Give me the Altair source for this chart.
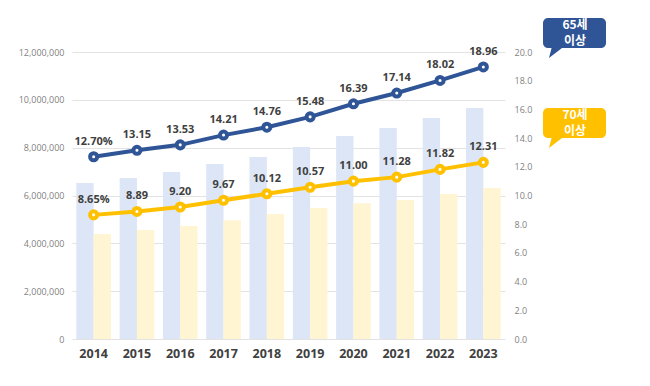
import altair as alt
import pandas as pd

years = ["2014", "2015", "2016", "2017", "2018", "2019", "2020", "2021", "2022", "2023"]
series = ["65세 이상", "70세 이상"]
pop65 = [6520000, 6730000, 6980000, 7320000, 7610000, 8030000, 8490000, 8820000, 9240000, 9660000]
pop70 = [4390000, 4560000, 4720000, 4970000, 5230000, 5480000, 5680000, 5810000, 6060000, 6310000]
rate65 = [12.70, 13.15, 13.53, 14.21, 14.76, 15.48, 16.39, 17.14, 18.02, 18.96]
rate70 = [8.65, 8.89, 9.20, 9.67, 10.12, 10.57, 11.00, 11.28, 11.82, 12.31]
label65 = ["12.70%", "13.15", "13.53", "14.21", "14.76", "15.48", "16.39", "17.14", "18.02", "18.96"]
label70 = ["8.65%", "8.89", "9.20", "9.67", "10.12", "10.57", "11.00", "11.28", "11.82", "12.31"]
left_ticks = [0, 2000000, 4000000, 6000000, 8000000, 10000000, 12000000]
right_ticks = [0, 2, 4, 6, 8, 10, 12, 14, 16, 18, 20]

bar_df = pd.DataFrame({
    "year": years * 2,
    "series": [series[0]] * 10 + [series[1]] * 10,
    "pop": pop65 + pop70,
})
line_df = pd.DataFrame({
    "year": years * 2,
    "series": [series[0]] * 10 + [series[1]] * 10,
    "rate": rate65 + rate70,
    "label": label65 + label70,
})

NUM_FONT = "Open Sans"
KR_FONT = "Noto Sans CJK KR"

xenc = alt.X("year:N", sort=years,
             scale=alt.Scale(paddingInner=0.2, paddingOuter=0.1),
             axis=alt.Axis(title=None, labelAngle=0, labelFont=NUM_FONT, labelFontSize=12.5,
                           labelFontWeight="bold", labelColor="#404040", labelPadding=8,
                           domain=False, ticks=False, grid=False))

bars = alt.Chart(bar_df).mark_bar().encode(
    x=xenc,
    xOffset=alt.XOffset("series:N", sort=series),
    y=alt.Y("pop:Q", scale=alt.Scale(domain=[0, 12000000], nice=False),
            axis=alt.Axis(title=None, values=left_ticks, format=",d", labelFont=NUM_FONT,
                          labelFontSize=9, labelColor="#7f7f7f", labelPadding=8,
                          domain=False, ticks=False, gridColor="#e3e3e3", gridWidth=1)),
    color=alt.Color("series:N", sort=series,
                    scale=alt.Scale(domain=series, range=["#dce6f6", "#fff5d2"]), legend=None),
)

line_color = alt.Color("series:N", sort=series,
                       scale=alt.Scale(domain=series, range=["#2f5597", "#ffc000"]), legend=None)


def yline():
    return alt.Y("rate:Q", scale=alt.Scale(domain=[0, 20], nice=False),
                 axis=alt.Axis(title=None, orient="right", values=right_ticks, format=".1f",
                               labelFont=NUM_FONT, labelFontSize=9, labelColor="#7f7f7f",
                               labelPadding=9, labelOverlap=False, labelBound=False,
                               domain=False, ticks=False, grid=False))


base = alt.Chart(line_df)
line = base.mark_line(strokeWidth=4).encode(x=alt.X("year:N", sort=years), y=yline(), color=line_color,
                                            detail="series:N")
points = base.mark_point(filled=False, fill="white", fillOpacity=1, size=50, strokeWidth=4,
                         opacity=1).encode(
    x=alt.X("year:N", sort=years), y=yline(), stroke=alt.Stroke("series:N", sort=series,
        scale=alt.Scale(domain=series, range=["#2f5597", "#ffc000"]), legend=None))
labels = base.mark_text(dy=-15, font=NUM_FONT, fontSize=11, fontWeight="bold",
                        color="#404040").encode(
    x=alt.X("year:N", sort=years), y=yline(), text="label:N")

lines = alt.layer(line, points, labels)

one = pd.DataFrame({"a": [0]})
ann = []
for (y0, y1, col, txt) in [(-34, -4, "#2f5597", ["65세", "이상"]), (56, 86, "#ffc000", ["70세", "이상"])]:
    box = alt.Chart(one).mark_rect(color=col, cornerRadius=5).encode(
        x=alt.value(471), x2=alt.value(534), y=alt.value(y0), y2=alt.value(y1))
    tail = alt.Chart(one).mark_point(shape="M -0.67 -0.9 L 1.33 -0.9 L -1.17 1 Z", size=144,
                                     filled=True, color=col, opacity=1).encode(
        x=alt.value(484), y=alt.value(y1 + 4))
    t1 = alt.Chart(one).mark_text(text=txt[0], font=KR_FONT, fontSize=12, fontWeight="bold",
                                  color="white", baseline="middle").encode(
        x=alt.value(503), y=alt.value(y0 + 7))
    t2 = alt.Chart(one).mark_text(text=txt[1], font=KR_FONT, fontSize=12, fontWeight="bold",
                                  color="white", baseline="middle").encode(
        x=alt.value(503), y=alt.value(y0 + 23))
    ann += [box, tail, t1, t2]

chart = alt.layer(bars, lines, *ann).resolve_scale(
    y="independent", color="independent", stroke="independent"
).properties(
    width=433, height=287,
    autosize=alt.AutoSizeParams(type="none"),
    padding={"left": 64, "top": 44, "right": 137, "bottom": 35},
).configure_view(stroke=None)

chart.save("out.html", embed_options={"renderer": "svg", "actions": False})
